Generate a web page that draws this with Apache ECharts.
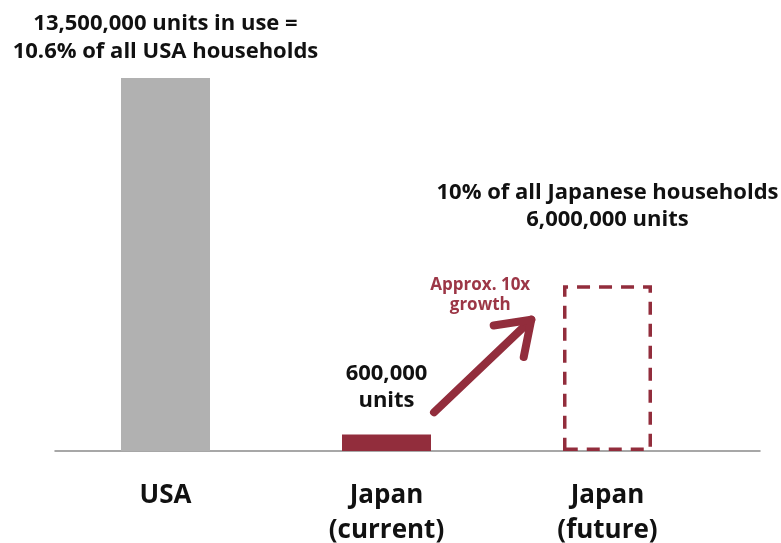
<!DOCTYPE html>
<html>
<head>
<meta charset="utf-8">
<script src="https://cdn.jsdelivr.net/npm/echarts@6/dist/echarts.min.js"></script>
<style>
  html, body { margin: 0; padding: 0; background: #ffffff; }
  #chart { width: 781px; height: 543px; }
</style>
</head>
<body>
<div id="chart"></div>
<script>
// Household units in use: USA vs Japan today and Japan's projected market
const categories = ['USA', 'Japan\n(current)', 'Japan\n(future)'];
const unitsInUse = [13500000, 600000, null];
const projectedUnits = [null, null, 6000000];
const barLabels = [
  '13,500,000 units in use =\n10.6% of all USA households',
  '600,000\nunits',
  '10% of all Japanese households\n6,000,000 units'
];
const growthNote = 'Approx. 10x\ngrowth';
// Arrow anchors in data space: [category position, units]
const arrowFrom = [1.215, 1400000];
const arrowTo = [1.655, 4750000];

const FONT = '"Open Sans", "Noto Sans", sans-serif';
const GREY = '#b1b1b1';
const WINE = '#922d3c';
const TEXT = '#111111';

const chart = echarts.init(document.getElementById('chart'), null, { renderer: 'canvas' });

chart.setOption({
  animation: false,
  backgroundColor: '#ffffff',
  grid: [
    { left: 55, right: 63, top: 78, bottom: 92, outerBoundsMode: 'none' },
    { left: 55, right: 21, top: 78, bottom: 92, outerBoundsMode: 'none' }
  ],
  xAxis: [
    {
      type: 'category',
      data: categories,
      gridIndex: 0,
      axisLine: { show: false },
      axisTick: { show: false },
      axisLabel: {
        margin: 27,
        color: TEXT,
        fontFamily: FONT,
        fontWeight: 'bold',
        fontSize: 26,
        lineHeight: 35,
        interval: 0
      }
    },
    {
      // baseline running the full width
      type: 'category',
      data: [''],
      gridIndex: 1,
      axisLine: { show: true, lineStyle: { color: '#8a8a8a', width: 1.5 } },
      axisTick: { show: false },
      axisLabel: { show: false }
    }
  ],
  yAxis: [
    { type: 'value', gridIndex: 0, min: 0, max: 13500000, show: false },
    { type: 'value', gridIndex: 1, min: 0, max: 1, show: false }
  ],
  series: [
    {
      name: 'Units in use',
      type: 'bar',
      barWidth: 89,
      barGap: '-100%',
      data: unitsInUse.map((v, i) => ({
        value: v,
        itemStyle: { color: i === 0 ? GREY : WINE },
        label: {
          show: v !== null,
          position: 'top',
          distance: i === 0 ? 12 : 20,
          formatter: barLabels[i],
          color: TEXT,
          fontFamily: FONT,
          fontWeight: 'bold',
          fontSize: 22,
          lineHeight: i === 0 ? 28 : 27,
          align: 'center'
        }
      }))
    },
    {
      name: 'Projected units',
      type: 'bar',
      barWidth: 89,
      barGap: '-100%',
      data: projectedUnits.map((v, i) => ({
        value: v,
        label: {
          show: v !== null,
          position: 'top',
          distance: 52,
          formatter: barLabels[i],
          color: TEXT,
          fontFamily: FONT,
          fontWeight: 'bold',
          fontSize: 22,
          lineHeight: 27,
          align: 'center'
        }
      })),
      itemStyle: {
        color: 'rgba(0,0,0,0)',
        borderColor: WINE,
        borderWidth: 3.5,
        borderType: [13, 9]
      }
    }
  ]
});

// Growth arrow, placed through the axes' own scales
function toPixel(pt) {
  const lo = Math.floor(pt[0]);
  const a = chart.convertToPixel({ xAxisIndex: 0, yAxisIndex: 0 }, [lo, pt[1]]);
  const b = chart.convertToPixel({ xAxisIndex: 0, yAxisIndex: 0 }, [lo + 1, pt[1]]);
  return [a[0] + (b[0] - a[0]) * (pt[0] - lo), a[1]];
}
const p0 = toPixel(arrowFrom);
const p1 = toPixel(arrowTo);
const back = Math.atan2(p0[1] - p1[1], p0[0] - p1[0]);
const armLen = 38;
const spread = 35 * Math.PI / 180;
const armA = [p1[0] + armLen * Math.cos(back - spread), p1[1] + armLen * Math.sin(back - spread)];
const armB = [p1[0] + armLen * Math.cos(back + spread), p1[1] + armLen * Math.sin(back + spread)];
const arrowStyle = { stroke: WINE, lineWidth: 8, lineCap: 'round', lineJoin: 'round', fill: null };

chart.setOption({
  graphic: [
    { type: 'polyline', shape: { points: [p0, p1] }, style: arrowStyle, z: 10 },
    { type: 'polyline', shape: { points: [armA, p1, armB] }, style: arrowStyle, z: 10 },
    {
      type: 'text',
      x: p1[0] - 51,
      y: p1[1] - 5,
      style: {
        text: growthNote,
        fill: '#9c3646',
        font: 'bold 17px ' + FONT,
        lineHeight: 20,
        align: 'center',
        verticalAlign: 'bottom'
      },
      z: 10
    }
  ]
});
</script>
</body>
</html>
